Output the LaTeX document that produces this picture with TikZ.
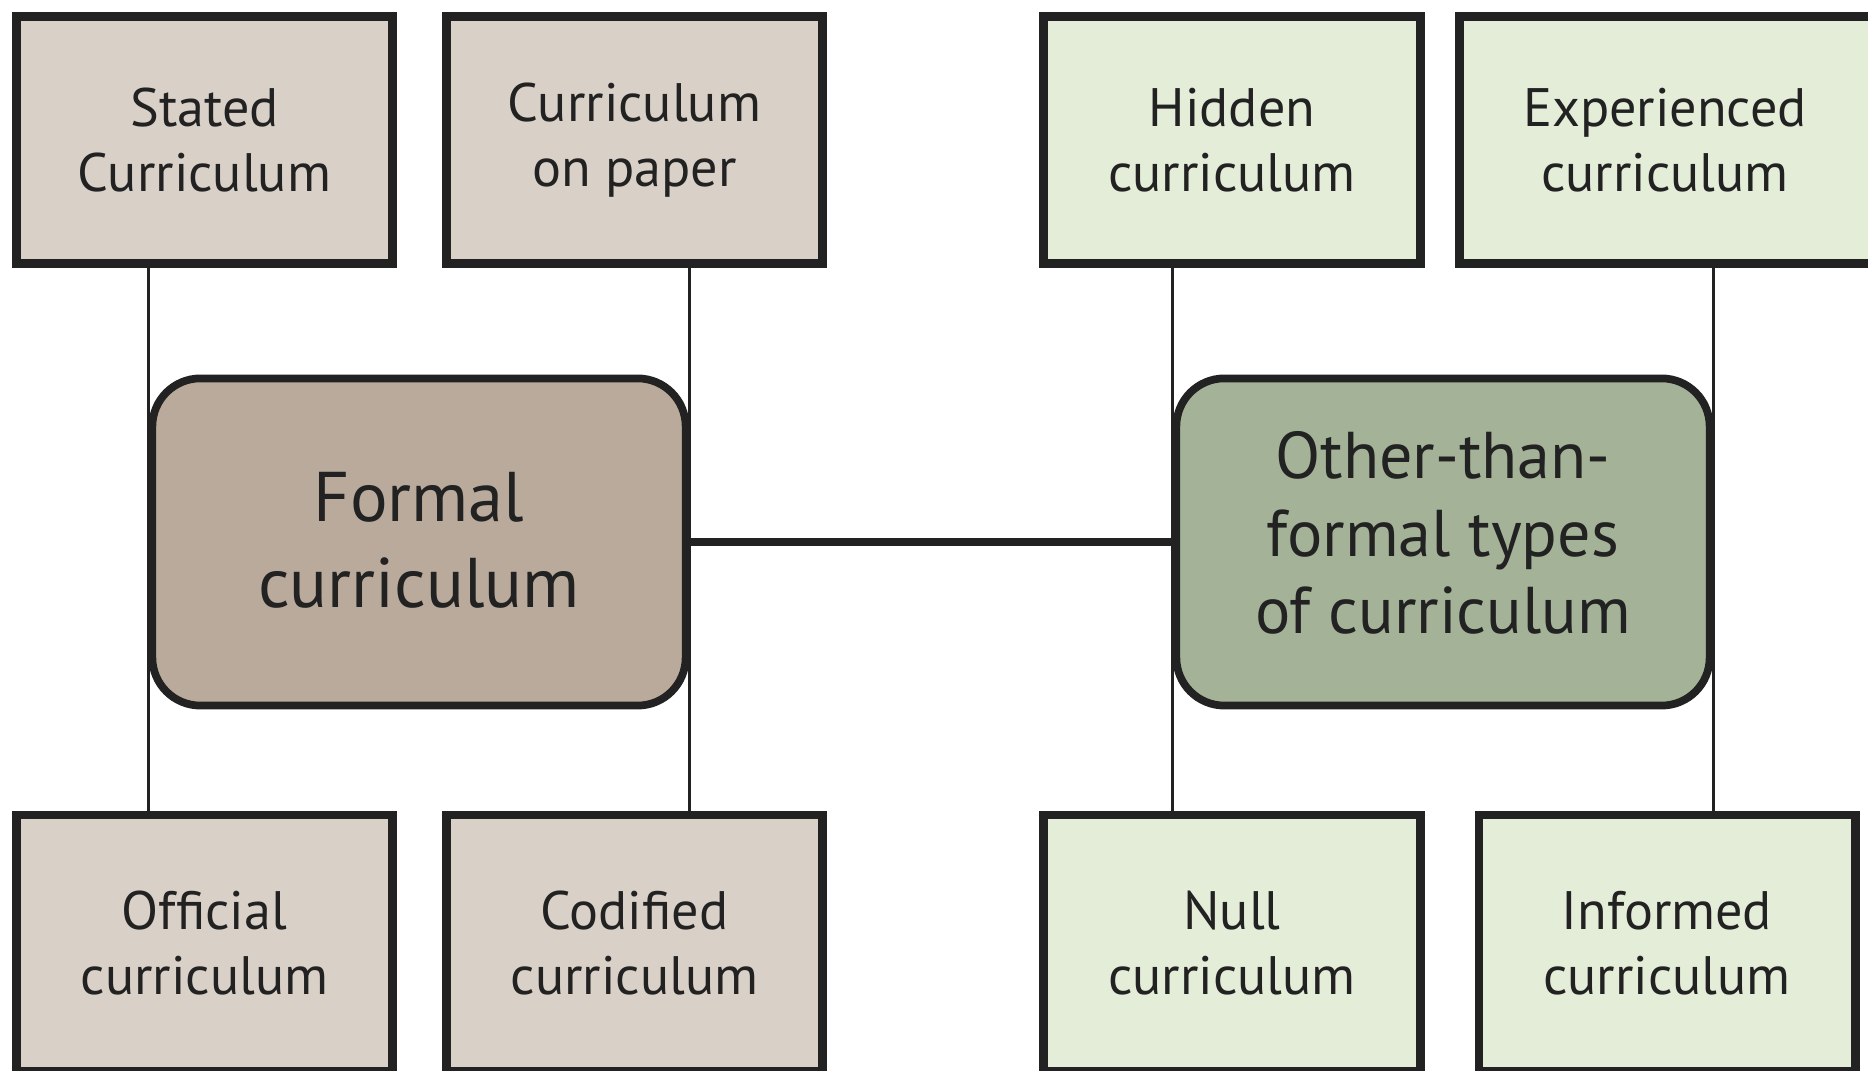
\documentclass[tikz,border=0pt]{standalone}
\usepackage{fontspec}
\setmainfont{PT Sans}
\usepackage{tikz}
\usetikzlibrary{positioning,backgrounds}

\definecolor{formallight}{HTML}{D9D0C7}
\definecolor{formaldark}{HTML}{B9AA9B}
\definecolor{otherlight}{HTML}{E3EDD8}
\definecolor{otherdark}{HTML}{A4B398}
\definecolor{edgegray}{HTML}{222222}

\begin{document}
\begin{tikzpicture}[x=0.01cm, y=-0.01cm,
  typebox/.style={draw=edgegray, line width=2.5pt, minimum width=3.76cm, minimum height=2.47cm,
    align=center, text=edgegray, font=\fontsize{15.4}{18.5}\selectfont},
  mainbox/.style={draw=edgegray, line width=2.2pt, rounded corners=0.48cm, minimum width=5.33cm,
    minimum height=3.27cm, align=center, text=edgegray},
  link/.style={draw=edgegray, line width=0.9pt},
  bond/.style={draw=edgegray, line width=2pt}]
\path[use as bounding box] (0,0) rectangle (1868,1071);

% central nodes
\node[mainbox, fill=formaldark, font=\fontsize{20}{24.5}\selectfont, text depth=0.05cm] (formal) at (419,542) {Formal\\curriculum};
\node[mainbox, fill=otherdark, font=\fontsize{18.8}{22}\selectfont, text depth=0.19cm] (other) at (1443,542) {Other-than-\\formal types\\of curriculum};

% top row
\node[typebox, fill=formallight] (stated) at (204.5,140) {Stated\\Curriculum};
\node[typebox, fill=formallight] (paper) at (634.5,140) {Curriculum\\on paper};
\node[typebox, fill=otherlight] (hidden) at (1232,140) {Hidden\\curriculum};
\node[typebox, fill=otherlight, minimum width=4.25cm] (experienced) at (1672,140) {};
\node[text=edgegray, font=\fontsize{15.4}{18.5}\selectfont, align=center] (experiencedtext) at (1665,140) {Experienced\\curriculum};

% bottom row
\node[typebox, fill=formallight, minimum height=2.56cm] (official) at (204.5,943) {Official\\curriculum};
\node[typebox, fill=formallight, minimum height=2.56cm] (codified) at (634.5,943) {Codified\\curriculum};
\node[typebox, fill=otherlight, minimum height=2.56cm] (null) at (1232,943) {Null\\curriculum};
\node[typebox, fill=otherlight, minimum height=2.56cm] (informed) at (1667,943) {Informed\\curriculum};

% thin links behind the boxes
\begin{scope}[on background layer]
\draw[link] (stated.south -| formal.west) -- (official.north -| formal.west);
\draw[link] (paper.south -| formal.east) -- (codified.north -| formal.east);
\draw[link] (hidden.south -| other.west) -- (null.north -| other.west);
\draw[link] (experienced.south -| other.east) -- (informed.north -| other.east);
\end{scope}

\draw[bond] (formal.east) -- (other.west);
\end{tikzpicture}
\end{document}
